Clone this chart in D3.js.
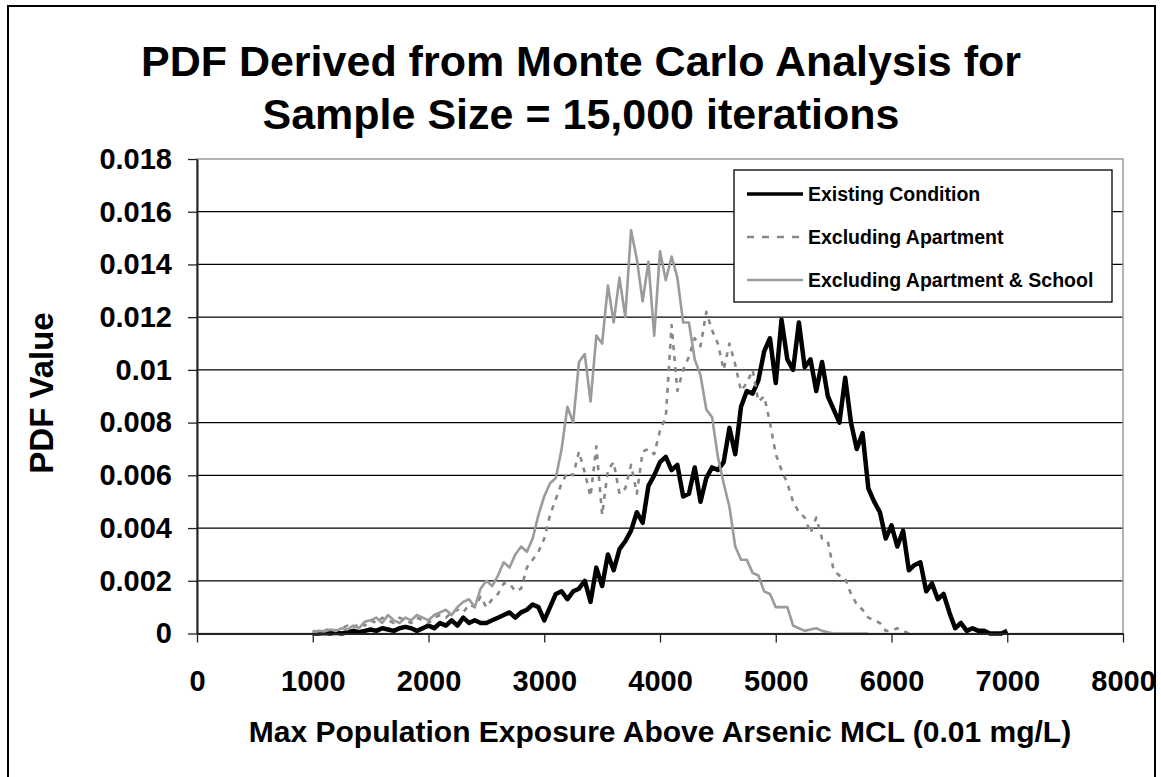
<!DOCTYPE html>
<html>
<head>
<meta charset="utf-8">
<script src="https://cdn.jsdelivr.net/npm/d3@7"></script>
<style>
body{margin:0;background:#fff;}
svg{display:block;font-family:"Liberation Sans",Arial,sans-serif;font-weight:bold;}
</style>
</head>
<body>
<svg id="svg" width="1161" height="777"></svg>
<script>
// bins start at 1000 and are 50 wide
var binStart = 1000, binStep = 50;

var existing = [
    0,0,0.00002,0,0.00003,0,0.00005,0.0001,0.00005,0.0001,
    0.00015,0.0001,0.0002,0.00015,0.0001,0.0002,0.00025,0.0002,0.0001,0.0002,
    0.0003,0.0002,0.0004,0.0003,0.0005,0.0003,0.0006,0.0004,0.0005,0.0004,
    0.0004,0.0005,0.0006,0.0007,0.0008,0.0006,0.0008,0.0009,0.0011,0.0010,
    0.0005,0.0010,0.0015,0.0016,0.0013,0.0016,0.0017,0.0020,0.0012,0.0025,
    0.0018,0.0030,0.0024,0.0032,0.0035,0.0039,0.0046,0.0042,0.0056,0.0060,
    0.0065,0.0067,0.0062,0.0064,0.0052,0.0053,0.0063,0.0050,0.0059,0.0063,
    0.0062,0.0065,0.0078,0.0068,0.0086,0.0092,0.0091,0.0096,0.0107,0.0112,
    0.0095,0.0119,0.0104,0.0100,0.0118,0.0101,0.0104,0.0092,0.0103,0.0090,
    0.0085,0.0080,0.0097,0.0080,0.0070,0.0076,0.0055,0.0050,0.0046,0.0036,
    0.0041,0.0033,0.0039,0.0024,0.0026,0.0027,0.0016,0.0019,0.0013,0.0015,
    0.0008,0.0002,0.0004,0.0001,0.0002,0.0001,0.0001,0,0,0,
    0.0001
];

var exclApartment = [
    0.0001,0.00005,0.0001,0.0002,0.0001,0.0002,0.0003,0.0002,0.0004,0.0003,
    0.0005,0.0004,0.0006,0.0005,0.0004,0.0006,0.0005,0.0004,0.0006,0.0005,
    0.0004,0.0006,0.0007,0.0006,0.0008,0.0009,0.0008,0.0011,0.0010,0.0014,
    0.0010,0.0013,0.0015,0.0019,0.0019,0.0016,0.0017,0.0025,0.0028,0.0031,
    0.0036,0.0045,0.0051,0.0057,0.0061,0.0060,0.0069,0.0061,0.0052,0.0071,
    0.0045,0.0062,0.0065,0.0053,0.0055,0.0064,0.0053,0.0069,0.0070,0.0068,
    0.0077,0.0082,0.0117,0.0092,0.0100,0.0105,0.0112,0.0109,0.0122,0.0115,
    0.0110,0.0100,0.0110,0.0102,0.0092,0.0095,0.0100,0.0088,0.0090,0.0080,
    0.0068,0.0062,0.0057,0.0050,0.0046,0.0044,0.0038,0.0044,0.0036,0.0035,
    0.0024,0.0022,0.0021,0.0015,0.0011,0.0009,0.0006,0.0005,0.0004,0.0001,
    0.0001,0.0002,0.0001,0
];

var exclApartmentSchool = [
    0.00005,0.0001,0.00008,0.00015,0.0001,0.0002,0.00015,0.0003,0.0002,0.00045,
    0.0005,0.0006,0.0004,0.0007,0.0005,0.0004,0.0006,0.0005,0.0007,0.0006,
    0.0005,0.0007,0.0008,0.0009,0.0007,0.0010,0.0012,0.0013,0.0010,0.0017,
    0.0020,0.0018,0.0022,0.0027,0.0025,0.0030,0.0033,0.0031,0.0036,0.0045,
    0.0052,0.0057,0.0059,0.0070,0.0086,0.0080,0.0103,0.0106,0.0088,0.0113,
    0.0110,0.0132,0.0118,0.0135,0.0120,0.0153,0.0142,0.0126,0.0141,0.0113,
    0.0145,0.0134,0.0143,0.0135,0.0118,0.0118,0.0104,0.0098,0.0085,0.0082,
    0.0067,0.0057,0.0048,0.0033,0.0028,0.0028,0.0023,0.0022,0.0016,0.0015,
    0.0010,0.0010,0.0010,0.0003,0.0002,0.0001,0.00015,0.0002,0.0001,0.00005,
    0,0,0,0,0,0,0
];

var seriesNames = ['Existing Condition','Excluding Apartment','Excluding Apartment & School'];
var xTicks = [0,1000,2000,3000,4000,5000,6000,7000,8000];
var yTicks = [0,0.002,0.004,0.006,0.008,0.01,0.012,0.014,0.016,0.018];

var svg = d3.select('#svg');

var plot = {left:197, top:159, right:1123, bottom:633.5};

var xScale = d3.scaleLinear().domain([0,8000]).range([plot.left, plot.right]);
var yScale = d3.scaleLinear().domain([0,0.018]).range([plot.bottom, plot.top]);

// outer chart border
svg.append('rect')
    .attr('x',8).attr('y',6)
    .attr('width',1147).attr('height',800)
    .attr('fill','#fff').attr('stroke','#000').attr('stroke-width',2);

// title
var title = svg.append('text')
    .attr('text-anchor','middle')
    .attr('font-size','43px')
    .attr('fill','#000');
title.append('tspan').attr('x',581).attr('y',76).text('PDF Derived from Monte Carlo Analysis for');
title.append('tspan').attr('x',581).attr('y',129).text('Sample Size = 15,000 iterations');

// gridlines
svg.append('g').selectAll('line')
    .data(yTicks.filter(function(d){ return d>0 && d<0.018; }))
    .enter().append('line')
    .attr('x1',plot.left).attr('x2',plot.right)
    .attr('y1',function(d){ return yScale(d); })
    .attr('y2',function(d){ return yScale(d); })
    .attr('stroke','#000').attr('stroke-width',1.2);

// plot area border (top + right show in grey)
svg.append('rect')
    .attr('x',plot.left).attr('y',plot.top)
    .attr('width',plot.right-plot.left).attr('height',plot.bottom-plot.top)
    .attr('fill','none').attr('stroke','#999').attr('stroke-width',1.5);

function toPoints(vals){
    return vals.map(function(v,i){ return {x:binStart+i*binStep, y:v}; });
}

var line = d3.line()
    .x(function(d){ return xScale(d.x); })
    .y(function(d){ return yScale(d.y); });

var series = [
    {name:seriesNames[0], pts:toPoints(existing), color:'#000', width:4.5, dash:null},
    {name:seriesNames[1], pts:toPoints(exclApartment), color:'#888', width:2.6, dash:'5,6'},
    {name:seriesNames[2], pts:toPoints(exclApartmentSchool), color:'#9b9b9b', width:2.6, dash:null}
];

var lineGrp = svg.append('g');
series.forEach(function(s){
    lineGrp.append('path')
        .datum(s.pts)
        .attr('d',line)
        .attr('fill','none')
        .attr('stroke',s.color)
        .attr('stroke-width',s.width)
        .attr('stroke-linejoin','round')
        .attr('stroke-dasharray',s.dash);
});

// axes
var xAxis = svg.append('g')
    .attr('transform','translate(0,'+plot.bottom+')')
    .call(d3.axisBottom(xScale).tickValues(xTicks).tickFormat(function(d){ return String(d); })
        .tickSize(9).tickSizeOuter(0).tickPadding(28));
var yAxis = svg.append('g')
    .attr('transform','translate('+plot.left+',0)')
    .call(d3.axisLeft(yScale).tickValues(yTicks).tickFormat(function(d){ return String(d); })
        .tickSize(9).tickSizeOuter(0).tickPadding(16));

[xAxis,yAxis].forEach(function(ax){
    ax.attr('font-family',null).attr('font-size',null);
    ax.select('.domain').attr('stroke','#222').attr('stroke-width',2);
    ax.selectAll('.tick line').attr('stroke','#222').attr('stroke-width',1.3);
    ax.selectAll('.tick text').attr('fill','#000').style('font-size','29px');
});

// axis titles
svg.append('text')
    .attr('x',660).attr('y',742)
    .attr('text-anchor','middle')
    .attr('font-size','30px')
    .text('Max Population Exposure Above Arsenic MCL (0.01 mg/L)');
svg.append('text')
    .attr('transform','translate(53,393) rotate(-90)')
    .attr('text-anchor','middle')
    .attr('font-size','33px')
    .text('PDF Value');

// legend
var legend = svg.append('g');
legend.append('rect')
    .attr('x',734).attr('y',170)
    .attr('width',378).attr('height',132)
    .attr('fill','#fff').attr('stroke','#000').attr('stroke-width',1.3);
var rows = legend.selectAll('g.row').data(series).enter()
    .append('g').attr('class','row')
    .attr('transform',function(d,i){ return 'translate(0,'+(194+i*43)+')'; });
rows.append('line')
    .attr('x1',747).attr('x2',803)
    .attr('stroke',function(d){ return d.color; })
    .attr('stroke-width',function(d){ return d.dash ? 2.6 : (d.width>3 ? 3.5 : 2.6); })
    .attr('stroke-dasharray',function(d){ return d.dash ? '7,8' : null; });
rows.append('text')
    .attr('x',808).attr('y',7)
    .attr('font-size','19.5px')
    .text(function(d){ return d.name; });
</script>
</body>
</html>
